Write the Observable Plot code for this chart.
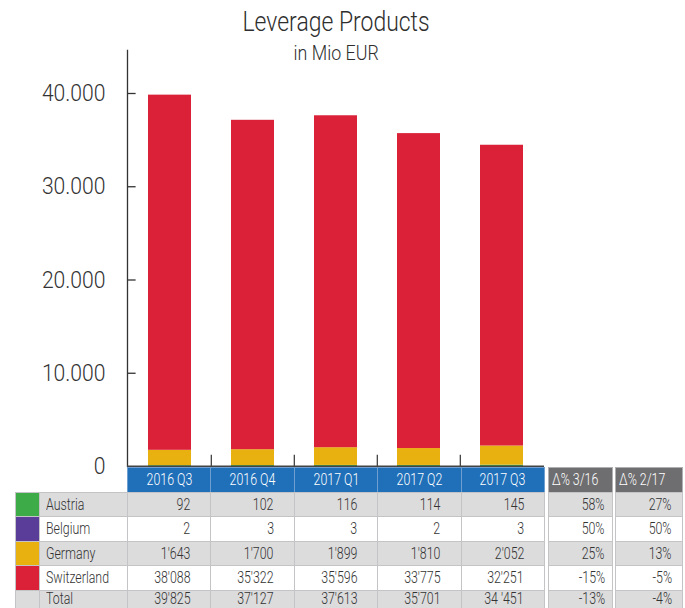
<!DOCTYPE html>
<html>
<head>
<meta charset="utf-8">
<script src="https://cdn.jsdelivr.net/npm/d3@7"></script>
<script src="https://cdn.jsdelivr.net/npm/@observablehq/plot@0.6"></script>
<style>
  body { margin: 0; background: #fff; }
  #root { position: relative; width: 685px; height: 608px; overflow: hidden;
    font-family: Roboto, "Liberation Sans", sans-serif; font-weight: 300; color: #2e2e2e; }
  .title { position: absolute; left: 0; width: 672px; text-align: center; white-space: nowrap; }
  .title span { display: inline-block; transform: scaleX(0.85); transform-origin: center; }
  #chart { position: absolute; left: 0; top: 48px; }
  .cell { position: absolute; box-sizing: border-box; border: 1px solid #c4c4c6; font-size: 16.5px;
    white-space: nowrap; overflow: hidden; color: #333; }
  .cell span { display: inline-block; transform: scaleX(0.75); }
</style>
</head>
<body>
<div id="root">
  <div class="title" style="top:6px;font-size:27px;"><span>Leverage Products</span></div>
  <div class="title" style="top:41px;font-size:21px;"><span>in Mio EUR</span></div>
  <div id="chart"></div>
</div>
<script>
const quarters = ["2016 Q3", "2016 Q4", "2017 Q1", "2017 Q2", "2017 Q3"];
const countries = ["Austria", "Belgium", "Germany", "Switzerland"];
const austria = [92, 102, 116, 114, 145];
const belgium = [2, 3, 3, 2, 3];
const germany = [1643, 1700, 1899, 1810, 2052];
const switzerland = [38088, 35322, 35596, 33775, 32251];
const totalLabels = ["39'825", "37'127", "37'613", "35'701", "34 '451"];
const delta316 = [58, 50, 25, -15, -13];
const delta217 = [27, 50, 13, -5, -4];
const deltaHeaders = ["\u0394% 3/16", "\u0394% 2/17"];
const yTicks = [0, 10000, 20000, 30000, 40000];
const countryColors = ["#3dab48", "#5a3d98", "#e9b10f", "#da2138"];
const stackOrder = ["Austria", "Germany", "Switzerland", "Belgium"];

const series = {Austria: austria, Belgium: belgium, Germany: germany, Switzerland: switzerland};
const rows = [];
quarters.forEach((q, i) => countries.forEach(c => rows.push({quarter: q, country: c, value: series[c][i]})));

const W = 685, H = 560, mL = 127, mR = 141, mT = 2, mB = 142;
const padIn = 0.48, padOut = 0.24;
const step = (W - mL - mR) / quarters.length;
const bandwidth = step * (1 - padIn);
const tickLen = 8;
const fmtY = d => d3.format(",")(d).replace(/,/g, ".");

const plot = Plot.plot({
  width: W, height: H,
  marginLeft: mL, marginRight: mR, marginTop: mT, marginBottom: mB,
  style: {fontFamily: "Roboto, 'Liberation Sans', sans-serif", fontWeight: 300, fontSize: "24px", color: "#333", background: "transparent", overflow: "visible"},
  x: {domain: quarters, paddingInner: padIn, paddingOuter: padOut, axis: null},
  y: {domain: [0, 44611], axis: null},
  color: {domain: countries, range: countryColors},
  marks: [
    Plot.barY(rows, {x: "quarter", y: "value", fill: "country", order: stackOrder}),
    // inward tick marks on the y axis (drawn from the left frame edge)
    Plot.tickY(yTicks.slice(1), {y: d => d, x: () => quarters[0], dx: -step * padOut, insetRight: bandwidth - tickLen, stroke: "#333", strokeWidth: 1.3}),
    // tick labels
    Plot.axisY({ticks: yTicks, tickFormat: fmtY, tickSize: 0, tickPadding: 22, fontSize: 24, fill: "#333", label: null}),
    Plot.frame({anchor: "left", stroke: "#333", strokeWidth: 1.3}),
    Plot.ruleX(quarters.slice(1), {x: d => d, dx: -step / 2, y1: 0, y2: 1200, stroke: "#333", strokeWidth: 1.2}),
    Plot.ruleY([0], {stroke: "#444", strokeWidth: 2})
  ]
});
// condense the tick labels horizontally (anchored at their right end)
plot.querySelectorAll('g[aria-label="y-axis tick label"] text').forEach(t => {
  const tr = t.getAttribute("transform");
  if (tr) t.setAttribute("transform", tr + " scale(0.88,1)");
  else {
    const x = +t.getAttribute("x") || 0, y = +t.getAttribute("y") || 0;
    t.setAttribute("x", 0); t.setAttribute("y", 0);
    t.setAttribute("transform", `translate(${x},${y}) scale(0.88,1)`);
  }
});
document.getElementById("chart").appendChild(plot);

// ---- data table below the chart ----
const root = document.getElementById("root");
function cell(x, y, w, h, bg, text, align, color, pad) {
  const d = document.createElement("div");
  d.className = "cell";
  Object.assign(d.style, {left: x + "px", top: y + "px", width: w + "px", height: h + "px",
    background: bg, textAlign: align || "left", color: color || "#333",
    paddingLeft: align === "left" ? (pad || 0) + "px" : "0", paddingRight: align === "right" ? (pad || 0) + "px" : "0",
    lineHeight: (h - 2) + "px"});
  const s = document.createElement("span");
  s.textContent = text;
  s.style.transformOrigin = align === "right" ? "right center" : align === "center" ? "center" : "left center";
  d.appendChild(s);
  root.appendChild(d);
  return d;
}
const headerTop = 467, headerH = 26, rowH = 24.4, rowTop = headerTop + headerH - 1;
const swX = 15, swW = 25, nameX = 39, nameW = mL - 39 + 1;
const d1X = 548, d1W = 65, d2X = 615, d2W = 68;
const grey = "#dcdcdd", white = "#ffffff", blue = "#1f6fb9", dgrey = "#6e6e70";
const fmtV = d3.formatLocale({thousands: "'", grouping: [3], decimal: "."}).format(",");

quarters.forEach((q, i) => {
  const c = cell(mL + i * step, headerTop, step + 1, headerH, blue, q, "center", "#fff");
  c.style.borderColor = "#6f9fd0";
});
deltaHeaders.forEach((t, k) => {
  const c = cell(k ? d2X : d1X, headerTop, k ? d2W : d1W, headerH, dgrey, t, "left", "#fff", 3);
  c.style.borderColor = "#b0b0b2";
});

const tableRows = countries.map((c, r) => ({
  name: c, color: countryColors[r], values: series[c].map(v => fmtV(v)),
  d1: delta316[r], d2: delta217[r]
}));
tableRows.push({name: "Total", color: grey, values: totalLabels, d1: delta316[4], d2: delta217[4]});

tableRows.forEach((row, r) => {
  const y = rowTop + r * rowH;
  const bg = r % 2 === 0 ? grey : white;
  const last = r === tableRows.length - 1;
  const h = last ? 608 - y + 4 : rowH + 1;
  cell(swX, y, swW, h, row.color, "", "left");
  const lh = last ? 16 : rowH;
  [cell(nameX, y, nameW, h, bg, row.name, "left", "#333", 6)]
    .concat(row.values.map((v, i) => cell(mL + i * step, y, step + 1, h, bg, v, "right", "#333", 20)))
    .concat([cell(d1X, y, d1W, h, bg, row.d1 + "%", "right", "#333", 7),
             cell(d2X, y, d2W, h, bg, row.d2 + "%", "right", "#333", 10)])
    .forEach(c => c.style.lineHeight = lh + "px");
});
</script>
</body>
</html>
